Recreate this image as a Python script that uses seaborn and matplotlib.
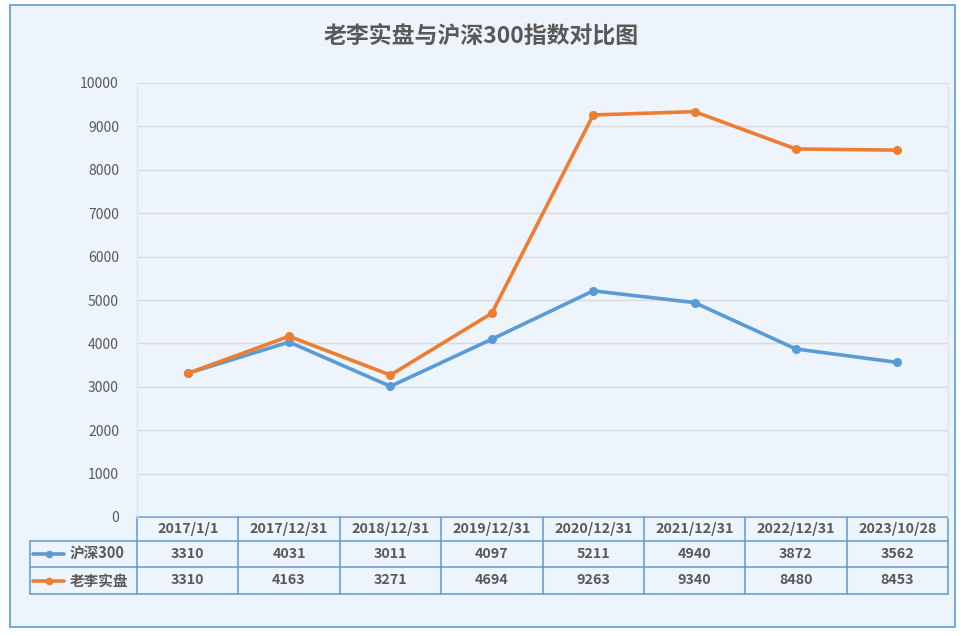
import matplotlib
matplotlib.use("Agg")
import matplotlib.pyplot as plt
import pandas as pd
import seaborn as sns
from matplotlib.patches import Rectangle

# data
dates = ["2017/1/1", "2017/12/31", "2018/12/31", "2019/12/31",
         "2020/12/31", "2021/12/31", "2022/12/31", "2023/10/28"]
hs300 = [3310, 4031, 3011, 4097, 5211, 4940, 3872, 3562]
laoli = [3310, 4163, 3271, 4694, 9263, 9340, 8480, 8453]
series_names = ["沪深300", "老李实盘"]
y_ticks = list(range(0, 10001, 1000))

BLUE = "#5B9BD5"
ORANGE = "#ED7D31"
TEXT = "#595959"
BG = "#EEF4FB"

df = pd.DataFrame({"date": dates * 2,
                   "value": hs300 + laoli,
                   "series": [series_names[0]] * len(dates) + [series_names[1]] * len(dates)})

sns.set_theme(style="white")
plt.rcParams["font.family"] = ["Noto Sans CJK SC", "DejaVu Sans"]

W, H = 964, 636
fig = plt.figure(figsize=(W / 100, H / 100), dpi=100, facecolor="white")

# background / frame overlay in pixel coordinates
bg = fig.add_axes([0, 0, 1, 1], zorder=0)
bg.set_xlim(0, W)
bg.set_ylim(H, 0)
bg.axis("off")
bg.add_patch(Rectangle((10, 5), 945, 622, facecolor=BG, edgecolor=BLUE, linewidth=1.2))

# plot area
x0, x1, ytop, ybot = 137, 948, 83, 517
ax = fig.add_axes([x0 / W, 1 - ybot / H, (x1 - x0) / W, (ybot - ytop) / H], zorder=2)
ax.set_facecolor("none")
sns.lineplot(data=df, x="date", y="value", hue="series", palette=[BLUE, ORANGE],
             marker="o", markersize=6.5, markeredgewidth=0, linewidth=2.6,
             legend=False, ax=ax, sort=False)
ax.set_xlim(-0.5, len(dates) - 0.5)
ax.set_ylim(0, 10000)
ax.set_yticks(y_ticks)
ax.set_yticklabels([str(t) for t in y_ticks], color=TEXT, fontsize=10)
ax.tick_params(axis="y", length=0, pad=13)
ax.set_xticks([])
ax.set_xlabel("")
ax.set_ylabel("")
ax.yaxis.grid(True, color="#D9D9D9", linewidth=1)
ax.set_axisbelow(True)
for side in ["top", "bottom"]:
    ax.spines[side].set_visible(False)
for side in ["left", "right"]:
    ax.spines[side].set_color("#DDE5EE")
    ax.spines[side].set_linewidth(1)

# title
bg.text(481, 36, "老李实盘与沪深300指数对比图", ha="center", va="center",
        fontsize=16.5, fontweight="bold", color=TEXT)

# data table below the plot
col_w = (x1 - x0) / len(dates)
rows_y = [517, 541, 567, 594]
leg_x = 30
lw = 1.1
# horizontal lines
bg.plot([x0, x1], [rows_y[0], rows_y[0]], color=BLUE, lw=lw)
for y in rows_y[1:]:
    bg.plot([leg_x, x1], [y, y], color=BLUE, lw=lw)
# vertical lines
bg.plot([leg_x, leg_x], [rows_y[1], rows_y[3]], color=BLUE, lw=lw)
for i in range(len(dates) + 1):
    bg.plot([x0 + i * col_w] * 2, [rows_y[0], rows_y[3]], color=BLUE, lw=lw)

for i, d in enumerate(dates):
    cx = x0 + (i + 0.5) * col_w
    bg.text(cx, (rows_y[0] + rows_y[1]) / 2, d, ha="center", va="center",
            fontsize=10.3, fontweight="bold", color=TEXT)
    for r, vals in enumerate([hs300, laoli]):
        bg.text(cx, (rows_y[r + 1] + rows_y[r + 2]) / 2, str(vals[i]), ha="center",
                va="center", fontsize=10.3, fontweight="bold", color=TEXT)

for r, (name, c) in enumerate(zip(series_names, [BLUE, ORANGE])):
    cy = (rows_y[r + 1] + rows_y[r + 2]) / 2
    bg.plot([33, 64], [cy, cy], color=c, lw=2.6, solid_capstyle="round")
    bg.plot([49], [cy], marker="o", color=c, markersize=5.5, markeredgewidth=0)
    bg.text(70, cy, name, ha="left", va="center", fontsize=10.5,
            fontweight="bold", color=TEXT)

fig.savefig("out.png", dpi=100, facecolor="white")
